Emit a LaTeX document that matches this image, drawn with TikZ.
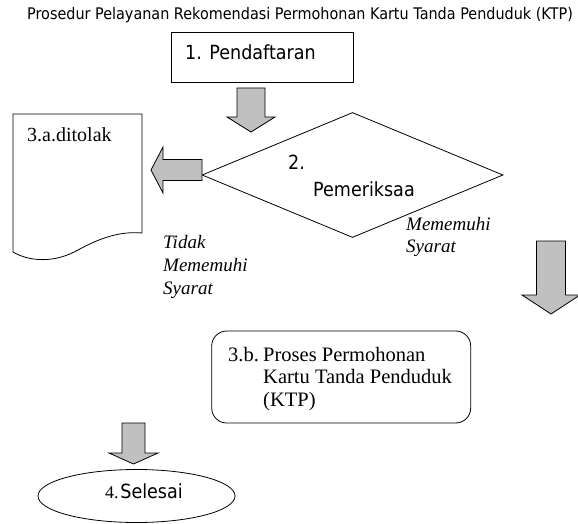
\documentclass[tikz,border=0pt]{standalone}
\usepackage{fontspec}
\usetikzlibrary{shapes.geometric}
\newfontfamily\tah[FakeStretch=0.9]{DejaVu Sans}
\newfontfamily\tnr{Liberation Serif}
\definecolor{arrgray}{HTML}{C0C0C0}
\tikzset{
  lw/.style={line width=0.8pt},
  blockarrow/.style={draw=black, line width=0.8pt, fill=arrgray, line join=miter},
  sanslbl/.style={font=\tah\fontsize{19.5}{23}\selectfont, inner sep=0pt},
  seriflbl/.style={font=\tnr\fontsize{20}{23}\selectfont, inner sep=0pt, anchor=base west},
  boxlbl/.style={font=\tnr\fontsize{20.5}{23}\selectfont, inner sep=0pt, anchor=base west},
  italbl/.style={font=\tnr\itshape\fontsize{19}{23}\selectfont, inner sep=0pt, anchor=base west},
}
\begin{document}
\begin{tikzpicture}[x=1pt,y=-1pt]
\useasboundingbox (0,0) rectangle (578,524);
% title
\node[font=\tah\fontsize{16}{19}\selectfont, inner sep=0pt] (title) at (300,15.5) {Prosedur Pelayanan Rekomendasi Permohonan Kartu Tanda Penduduk (KTP)};
% step 1
\node[draw, lw, minimum width=182pt, minimum height=50pt, inner sep=0pt] (daftar) at (262,57) {};
\node[sanslbl, anchor=west] (daftartxt) at (185,52) {1. Pendaftaran};
% arrow 1 down
\draw[blockarrow] (237,88) -- (265,88) -- (265,117) -- (275,117) -- (251,132) -- (227,117) -- (237,117) -- cycle;
% diamond
\node[draw, lw, diamond, minimum width=301pt, minimum height=125pt, inner sep=0pt] (periksa) at (352.5,175) {};
\node[sanslbl, anchor=west] (n2) at (288,162) {2.};
\node[sanslbl, anchor=west] (pem) at (313,189) {Pemeriksaa};
% left arrow
\draw[blockarrow] (202,159.5) -- (202,180.5) -- (163,180.5) -- (163,193) -- (151,170) -- (163,147) -- (163,159.5) -- cycle;
% document shape
\coordinate (docA) at (13,114);
\coordinate (docB) at (142,114);
\draw[lw] (docA) -- (docB) -- (142,233) .. controls (120,231) and (100,238) .. (78,250) .. controls (55,263) and (30,262) .. (13,252) -- cycle;
\node[seriflbl] (tolak) at (27,142) {3.a.ditolak};
% labels
\node[italbl] (tidak1) at (163,248) {Tidak};
\node[italbl] (tidak2) at (163,271.5) {Mememuhi};
\node[italbl] (tidak3) at (163,294.5) {Syarat};
\node[italbl] (memenuhi1) at (406,230) {Mememuhi};
\node[italbl] (memenuhi2) at (406,252.5) {Syarat};
% arrow 2 down
\draw[blockarrow] (536.5,241) -- (565.5,241) -- (565.5,295) -- (580,295) -- (551,314) -- (522,295) -- (536.5,295) -- cycle;
% box 3b
\node[draw, lw, rounded corners=15pt, minimum width=259pt, minimum height=92pt, inner sep=0pt] (proses) at (341.2,377) {};
\node[boxlbl] (p3b) at (228,361) {3.b.};
\node[boxlbl] (pl1) at (263,361) {Proses Permohonan};
\node[boxlbl] (pl2) at (263,383.5) {Kartu Tanda Penduduk};
\node[boxlbl] (pl3) at (263,406) {(KTP)};
% arrow 3 down
\draw[blockarrow] (122,423) -- (145,423) -- (145,453) -- (158,453) -- (133.5,464) -- (109,453) -- (122,453) -- cycle;
% ellipse
\node[draw, lw, ellipse, minimum width=197pt, minimum height=53pt, inner sep=0pt] (selesai) at (136.5,496) {};
\node[anchor=west, inner sep=0pt] (seltxt) at (105,491) {{\tnr\fontsize{18}{20}\selectfont 4.}\,{\tah\fontsize{19.5}{23}\selectfont Selesai}};
\end{tikzpicture}
\end{document}
